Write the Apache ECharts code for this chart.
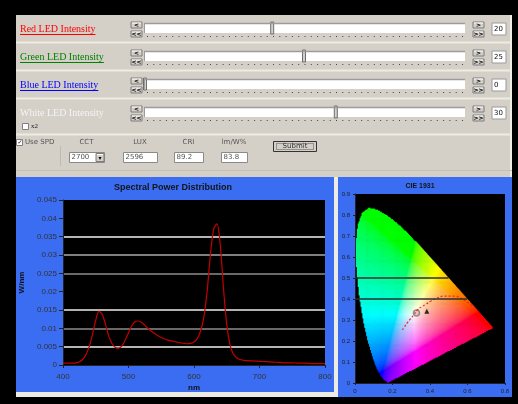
<!DOCTYPE html>
<html>
<head>
<meta charset="utf-8">
<script src="https://cdn.jsdelivr.net/npm/echarts@6/dist/echarts.min.js"></script>
<style>
  html, body { margin: 0; padding: 0; background: #000; }
  #main { width: 518px; height: 404px; }
</style>
</head>
<body>
<div id="main"></div>
<script>
// LED sliders
const ledNames = ['Red LED Intensity', 'Green LED Intensity', 'Blue LED Intensity', 'White LED Intensity']
const ledColors = ['#ff0000', '#008000', '#0000ff', '#f4f4f4']
const ledValues = [20, 25, 0, 30]
const ledMax = 50

// form row
const fieldLabels = ['CCT', 'LUX', 'CRI', 'lm/W%']
const fieldValues = ['2700', '2596', '89.2', '83.8']

// spectral power distribution (W/nm)
const wavelengths = [400, 405, 410, 415, 420, 425, 430, 435, 440, 445, 450, 455, 460, 465, 470, 475, 480, 485, 490, 495,
  500, 505, 510, 515, 520, 525, 530, 535, 540, 545, 550, 555, 560, 565, 570, 575, 580, 585, 590, 595,
  600, 605, 610, 615, 620, 625, 630, 635, 640, 645, 650, 655, 660, 665, 670, 675, 680,
  690, 700, 710, 720, 730, 740, 750, 760, 770, 780, 790, 800]
const spdValues = [0.0005, 0.0005, 0.0005, 0.0005, 0.0006, 0.0009, 0.0015, 0.0028, 0.0050, 0.0083, 0.0122, 0.0146, 0.0138, 0.0110, 0.0078, 0.0058, 0.0048, 0.0046, 0.0052, 0.0068,
  0.0088, 0.0107, 0.0118, 0.0120, 0.0116, 0.0108, 0.0099, 0.0092, 0.0086, 0.0080, 0.0075, 0.0071, 0.0068, 0.0066, 0.0064, 0.0062, 0.0060, 0.0059, 0.0058, 0.0059,
  0.0063, 0.0072, 0.0092, 0.0130, 0.0200, 0.0300, 0.0370, 0.0385, 0.0330, 0.0210, 0.0110, 0.0055, 0.0030, 0.0020, 0.0015, 0.0013, 0.0012,
  0.0011, 0.0010, 0.0009, 0.0008, 0.0007, 0.0006, 0.0006, 0.0005, 0.0005, 0.0004, 0.0004, 0.0004]
const spdGridColors = ['transparent', '#f2f2f2', '#8c8c8c', '#eeeeee', 'transparent', '#8c8c8c', '#aaaaaa', '#f2f2f2', 'transparent', 'transparent']

// CIE 1931 spectral locus (x, y)
const locusX = [0.1741, 0.1714, 0.1644, 0.1566, 0.1440, 0.1355, 0.1241, 0.1096, 0.0913, 0.0687, 0.0454, 0.0235, 0.0082, 0.0039, 0.0139, 0.0389,
  0.0743, 0.1142, 0.1547, 0.1929, 0.2296, 0.2658, 0.3016, 0.3373, 0.3731, 0.4441, 0.5125, 0.5752, 0.6270, 0.6658, 0.6915, 0.7190, 0.7347]
const locusY = [0.0050, 0.0051, 0.0109, 0.0177, 0.0297, 0.0399, 0.0578, 0.0868, 0.1327, 0.2007, 0.2950, 0.4127, 0.5384, 0.6548, 0.7502, 0.8120,
  0.8338, 0.8262, 0.8059, 0.7816, 0.7543, 0.7243, 0.6923, 0.6589, 0.6245, 0.5547, 0.4866, 0.4242, 0.3725, 0.3340, 0.3083, 0.2809, 0.2653]
// Planckian locus
const planckX = [0.2530, 0.2637, 0.2807, 0.2952, 0.3135, 0.3324, 0.3611, 0.3805, 0.4053, 0.4369, 0.4770, 0.5267, 0.5857, 0.6251]
const planckY = [0.2520, 0.2674, 0.2884, 0.3048, 0.3237, 0.3474, 0.3658, 0.3768, 0.3907, 0.4041, 0.4137, 0.4133, 0.3931, 0.3674]
const whitePoint = [0.328, 0.333]
const mixPoint = [0.383, 0.342]
const cieGridY = [0.4, 0.5]

// ---------- UI drawn as graphic elements ----------
const ui = []
const box = (x, y, w, h, fill, stroke) => ui.push({ type: 'rect', z: -5, silent: true, shape: { x, y, width: w, height: h }, style: { fill, stroke: stroke || null, lineWidth: 1 } })
const line = (x1, y1, x2, y2, stroke, w) => ui.push({ type: 'line', z: -4, silent: true, shape: { x1, y1, x2, y2 }, style: { stroke, lineWidth: w || 1 } })
const label = (x, y, text, fill, font, align) => ui.push({ type: 'text', z: -3, silent: true, x, y, style: { text, fill, font, textAlign: align || 'left', textVerticalAlign: 'middle' } })
const btn = (x, y, w, h, txt) => {
  box(x, y, w, h, '#d4d0c8', '#7c7c7c')
  line(x + 1, y + 1, x + w - 1, y + 1, '#ffffff')
  label(x + w / 2, y + h / 2 + 0.5, txt, '#000', 'bold 6px "DejaVu Sans"', 'center')
}
const measure = document.createElement('canvas').getContext('2d')

// top panel
box(16, 15, 496, 162, '#d4d0c8')
;[42.5, 70.5, 98.5, 134.5].forEach(y => line(16, y, 512, y, '#eeebe3', 2))
line(511, 15, 511, 177, '#efede6', 2)

ledNames.forEach((name, i) => {
  const top = 15 + 28 * i
  const cy = top + 14
  const font = '10px "Liberation Serif"'
  label(20, cy, name, ledColors[i], font)
  if (i < 3) {
    measure.font = font
    line(20, cy + 5.5, 20 + measure.measureText(name).width, cy + 5.5, ledColors[i], 1)
  }
  btn(131, top + 7, 11, 6, '<')
  btn(131, top + 16, 11, 6, '<<')
  btn(473, top + 7, 11, 6, '>')
  btn(473, top + 16, 11, 6, '>>')
  box(144, top + 8, 321, 10, '#ffffff')
  line(144, top + 8.5, 465, top + 8.5, '#9c9c9c', 1.5)
  line(144.5, top + 8, 144.5, top + 18, '#9c9c9c', 1)
  for (let k = 0; k <= 50; k++) box(147 + k * 6.3, top + 21, 1, 1, '#444')
  const tx = 145 + ledValues[i] / ledMax * 318
  box(tx - 1.5, top + 7, 3, 12, '#d4d0c8', '#6e6e6e')
  box(492, top + 8, 14, 12, '#ffffff', '#9a9a9a')
  label(494, top + 14, String(ledValues[i]), '#111', '7px "DejaVu Sans"')
})
box(22.5, 123.5, 6, 6, '#ffffff', '#808080')
label(31, 126.5, 'x2', '#222', '7px "Liberation Serif"')

// form row
box(16.5, 139.5, 6, 6, '#ffffff', '#808080')
label(17.5, 142.5, '✓', '#000', 'bold 6px "DejaVu Sans"')
label(25, 142, 'Use SPD', '#555', '7px "DejaVu Sans"')
line(60.5, 146, 60.5, 166, '#bdbab2', 1)
const fieldBoxes = [[69, 35], [123, 34], [174, 29], [221, 26]]
fieldBoxes.forEach(([x, w], i) => {
  label(x + w / 2, 142.5, fieldLabels[i], '#555', '7px "DejaVu Sans"', 'center')
  box(x + 0.5, 152.5, w, 10, '#ffffff', '#8a8a8a')
  label(x + 2.5, 157.5, fieldValues[i], '#555', '7px "DejaVu Sans"')
})
btn(96, 153.5, 8, 8, '▾')
box(273.5, 141.5, 43, 10, '#d4d0c8', '#333')
ui.push({ type: 'rect', z: -4, silent: true, shape: { x: 276.5, y: 143.5, width: 37, height: 6 }, style: { fill: null, stroke: '#555', lineWidth: 1, lineDash: [1, 1] } })
label(295, 146.5, 'Submit', '#333', '7px "DejaVu Sans"', 'center')
line(16, 170.5, 512, 170.5, '#c4c1b9', 1)

// chart panels
box(16, 177, 496, 220, '#ecebe4')
box(16, 177, 318, 215, '#3b6df3')
box(338, 177, 174, 220, '#3b6df3')
label(173, 188, 'Spectral Power Distribution', '#141414', 'bold 9px "Liberation Sans"', 'center')
label(420, 186, 'CIE 1931', '#141414', 'bold 7px "Liberation Sans"', 'center')

// ---------- CIE gamut cells ----------
const insideLocus = (px, py) => {
  let inside = false
  for (let i = 0, j = locusX.length - 1; i < locusX.length; j = i++) {
    const xi = locusX[i], yi = locusY[i], xj = locusX[j], yj = locusY[j]
    if ((yi > py) !== (yj > py) && px < (xj - xi) * (py - yi) / (yj - yi) + xi) inside = !inside
  }
  return inside
}
// right-hand edge of the locus at a given y (grid lines only show over the colours)
const locusRightX = py => {
  let best = 0
  for (let i = 0, j = locusX.length - 1; i < locusX.length; j = i++) {
    const xi = locusX[i], yi = locusY[i], xj = locusX[j], yj = locusY[j]
    if ((yi > py) !== (yj > py)) best = Math.max(best, (xj - xi) * (py - yi) / (yj - yi) + xi)
  }
  return best
}
const xyColor = (x, y) => {
  const X = x / y, Z = (1 - x - y) / y
  const r = Math.max(0, 3.2406 * X - 1.5372 - 0.4986 * Z)
  const g = Math.max(0, -0.9689 * X + 1.8758 + 0.0415 * Z)
  const b = Math.max(0, 0.0557 * X - 0.2040 + 1.0570 * Z)
  const m = Math.max(r, g, b)
  const gam = v => {
    v = v / m
    return Math.round(255 * (v <= 0.0031308 ? 12.92 * v : 1.055 * Math.pow(v, 1 / 2.4) - 0.055))
  }
  return 'rgb(' + gam(r) + ',' + gam(g) + ',' + gam(b) + ')'
}
const step = 0.005
const cells = []
for (let x = step / 2; x < 0.76; x += step) {
  for (let y = step / 2; y < 0.86; y += step) {
    if (insideLocus(x, y)) cells.push([x, y])
  }
}

const chart = echarts.init(document.getElementById('main'))

const option = {
  backgroundColor: '#000',
  animation: false,
  graphic: ui,
  grid: [
    { left: 63, top: 200, width: 262, height: 165, show: true, backgroundColor: '#000', borderWidth: 0 },
    { left: 355, top: 194, width: 150, height: 189, show: true, backgroundColor: '#000', borderWidth: 0 }
  ],
  xAxis: [
    {
      gridIndex: 0, type: 'value', min: 400, max: 800, interval: 100,
      name: 'nm', nameLocation: 'middle', nameGap: 19,
      nameTextStyle: { fontSize: 8, fontWeight: 'bold', color: '#111', fontFamily: 'Liberation Sans' },
      axisLine: { lineStyle: { color: '#222' } },
      axisTick: { length: 3, lineStyle: { color: '#222' } },
      axisLabel: { fontSize: 8, color: '#333', margin: 8, fontFamily: 'Liberation Sans' },
      splitLine: { show: false }
    },
    {
      gridIndex: 1, type: 'value', min: 0, max: 0.8, interval: 0.2,
      axisLine: { lineStyle: { color: '#222' } },
      axisTick: { length: 2, lineStyle: { color: '#222' } },
      axisLabel: { fontSize: 6, color: '#222', margin: 5, fontFamily: 'Liberation Sans' },
      splitLine: { show: false }
    }
  ],
  yAxis: [
    {
      gridIndex: 0, type: 'value', min: 0, max: 0.045, interval: 0.005,
      name: 'W/nm', nameLocation: 'middle', nameGap: 36,
      nameTextStyle: { fontSize: 8, fontWeight: 'bold', color: '#111', fontFamily: 'Liberation Sans' },
      axisLine: { show: true, lineStyle: { color: '#222' } },
      axisTick: { show: true, length: 4, lineStyle: { color: '#222' } },
      axisLabel: { fontSize: 8, color: '#333', margin: 6, fontFamily: 'Liberation Sans', formatter: v => String(+v.toFixed(3)) },
      splitLine: { show: true, lineStyle: { color: spdGridColors, width: 1.5 } }
    },
    {
      gridIndex: 1, type: 'value', min: 0, max: 0.9, interval: 0.1,
      axisLine: { show: true, lineStyle: { color: '#222' } },
      axisTick: { show: true, length: 2, lineStyle: { color: '#222' } },
      axisLabel: { fontSize: 6, color: '#222', margin: 5, fontFamily: 'Liberation Sans', formatter: v => String(+v.toFixed(1)) },
      splitLine: { show: false }
    }
  ],
  series: [
    {
      type: 'line', xAxisIndex: 0, yAxisIndex: 0,
      data: wavelengths.map((w, i) => [w, spdValues[i]]),
      smooth: 0.3, showSymbol: false,
      lineStyle: { color: '#c40000', width: 1.2 }
    },
    {
      type: 'custom', xAxisIndex: 1, yAxisIndex: 1, silent: true, progressive: 0,
      data: cells,
      renderItem: (params, api) => {
        const x = api.value(0), y = api.value(1)
        const p = api.coord([x - step / 2, y + step / 2])
        const s = api.size([step, step])
        return { type: 'rect', shape: { x: p[0], y: p[1], width: s[0] + 0.6, height: s[1] + 0.6 }, style: { fill: xyColor(x, y) } }
      }
    },
    {
      type: 'line', xAxisIndex: 1, yAxisIndex: 1, silent: true,
      data: planckX.map((x, i) => [x, planckY[i]]),
      smooth: true, showSymbol: false,
      lineStyle: { color: '#e0301c', width: 1.2, type: [2, 2] },
      markLine: {
        silent: true, symbol: 'none', label: { show: false },
        lineStyle: { color: '#2e2e2e', width: 1.5, type: 'solid' },
        data: cieGridY.map(v => [{ coord: [0, v] }, { coord: [locusRightX(v), v] }])
      }
    },
    {
      type: 'scatter', xAxisIndex: 1, yAxisIndex: 1, silent: true,
      data: [whitePoint], symbol: 'circle', symbolSize: 6,
      itemStyle: { color: 'rgba(230,140,140,0.6)', borderColor: '#7a7a7a', borderWidth: 1.5 }
    },
    {
      type: 'scatter', xAxisIndex: 1, yAxisIndex: 1, silent: true,
      data: [mixPoint], symbol: 'triangle', symbolSize: 5,
      itemStyle: { color: '#000' }
    }
  ]
}

chart.setOption(option)
</script>
</body>
</html>
